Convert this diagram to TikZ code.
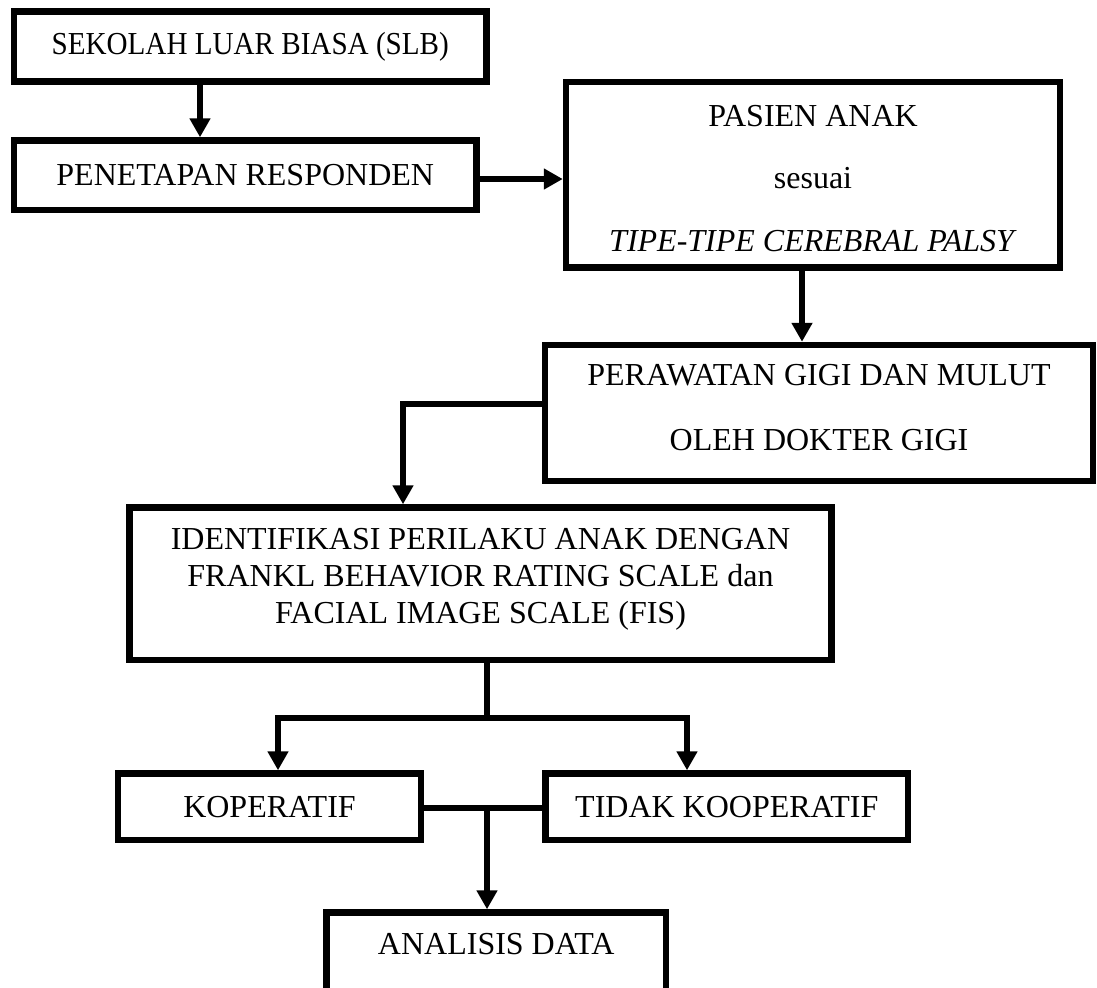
\documentclass[tikz,border=0pt]{standalone}
\usepackage{fontspec}
\usepackage{graphicx}
\setmainfont{Liberation Serif}
\usetikzlibrary{arrows.meta}
\begin{document}
\begin{tikzpicture}[x=0.5pt,y=-0.5pt,
  box/.style={draw=black, line width=3.25pt, rectangle, inner sep=0pt, align=center, font=\fontsize{16}{18.5}\selectfont},
  conn/.style={draw=black, line width=3pt, line join=miter},
  arr/.style={conn, -{Triangle[width=10pt,length=9.5pt]}}]
\useasboundingbox (0,0) rectangle (1097,987);
\clip (0,0) rectangle (1097,987);
\node[box, minimum width=236.25pt, minimum height=35pt] (slb) at (250.25,46.5) {\scalebox{0.91}[1]{SEKOLAH LUAR BIASA (SLB)}};
\node[box, minimum width=231.25pt, minimum height=34.75pt] (pen) at (245.25,175.25) {PENETAPAN RESPONDEN};
\node[box, minimum width=247pt, minimum height=92.75pt, font=\fontsize{16}{31.25}\selectfont] (pasien) at (813,174.75) {\rule{0pt}{14.2pt}PASIEN ANAK\\ sesuai\\ \textit{TIPE-TIPE CEREBRAL PALSY}};
\node[box, minimum width=274pt, minimum height=68pt, font=\fontsize{16}{32.5}\selectfont] (per) at (819,413) {PERAWATAN GIGI DAN MULUT\\ OLEH DOKTER GIGI\rule[-5.5pt]{0pt}{5.5pt}};
\node[box, minimum width=351pt, minimum height=76.25pt] (ident) at (480.5,583.75) {IDENTIFIKASI PERILAKU ANAK DENGAN\\ FRANKL BEHAVIOR RATING SCALE dan\\ FACIAL IMAGE SCALE (FIS)\rule[-8.2pt]{0pt}{8.2pt}};
\node[box, minimum width=151.5pt, minimum height=33.25pt] (kop) at (269.5,806.75) {KOPERATIF};
\node[box, minimum width=181.25pt, minimum height=33.25pt] (tidak) at (726.75,806.75) {TIDAK KOOPERATIF};
\node[box, minimum width=169.75pt, minimum height=44pt, anchor=north, text height=11pt, text depth=13pt] (anal) at (496.25,909.25) {ANALISIS DATA};
\coordinate (c1) at (200,0);
\coordinate (c2) at (0,179);
\coordinate (c3) at (802,0);
\coordinate (c4) at (403,404);
\coordinate (c5) at (487,718);
\coordinate (c6) at (278,718);
\coordinate (c7) at (687,718);
\coordinate (c8) at (487,808);
\draw[arr] (slb.south -| c1) -- (pen.north -| c1);
\draw[arr] (pen.east |- c2) -- (pasien.west |- c2);
\draw[arr] (pasien.south -| c3) -- (per.north -| c3);
\draw[arr] (per.west |- c4) -| (ident.north -| c4);
\draw[conn] (ident.south -| c5) -- (c5);
\draw[arr] (c5) -| (kop.north -| c6);
\draw[arr] (c5) -| (tidak.north -| c7);
\draw[conn] (kop.east |- c8) -- (tidak.west |- c8);
\draw[arr] (c8) -- (anal.north -| c8);
\end{tikzpicture}
\end{document}
